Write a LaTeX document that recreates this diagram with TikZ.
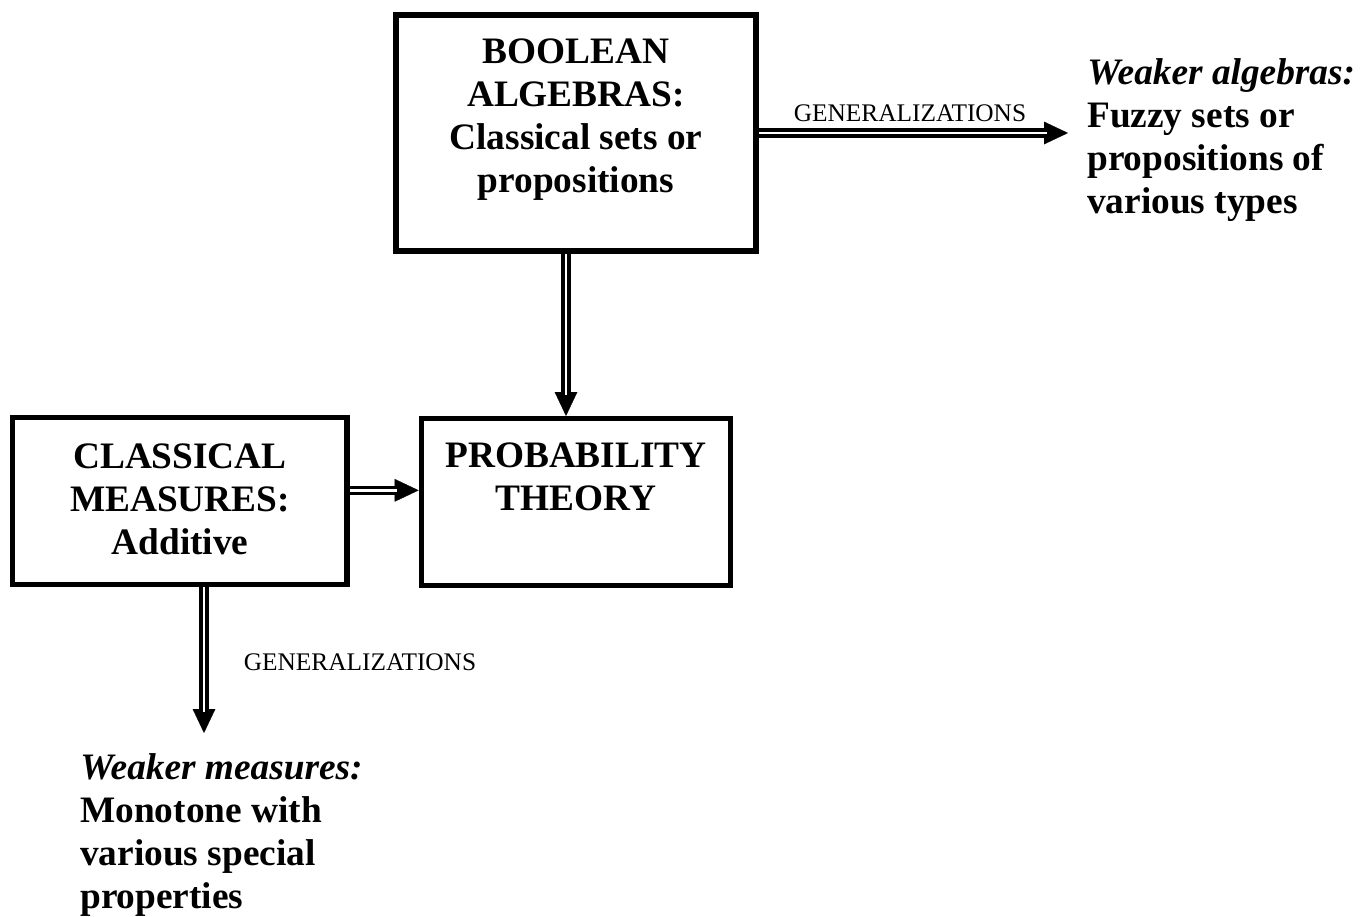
\documentclass[tikz,border=0pt]{standalone}
\usepackage{fontspec}
\setmainfont{Liberation Serif}
\usetikzlibrary{arrows.meta}
\tikzset{
  box/.style={draw=black, line width=4pt, inner sep=0pt},
  boxtext/.style={align=center, font=\fontsize{28}{32.3}\selectfont\bfseries, inner sep=0pt},
  sidetext/.style={align=left, font=\fontsize{28}{32.3}\selectfont\bfseries, inner sep=0pt, anchor=west},
  lbl/.style={font=\fontsize{19}{22}\selectfont, inner sep=0pt},
  tipline/.style={line width=0.2pt, -{Triangle[length=18pt,width=17pt]}},
  shaft/.style={line width=2.5pt, double=white, double distance=2.2pt}
}
\begin{document}
\begin{tikzpicture}[x=0.75pt,y=-0.75pt]
\useasboundingbox (0,0) rectangle (1360,917);
% boxes
\node[box, minimum width=270pt, minimum height=177pt] (bool) at (576,133) {};
\node[box, minimum width=251pt, minimum height=125pt] (class) at (179.5,501) {};
\node[box, minimum width=232pt, minimum height=125pt] (prob) at (576,502) {};
% box texts
\node[boxtext] (boolt) at (576,119.5) {BOOLEAN\\ALGEBRAS:\\Classical sets or\\propositions};
\node[boxtext] (classt) at (180,499) {CLASSICAL\\MEASURES:\\Additive};
\node[boxtext] (probt) at (576,477) {PROBABILITY\\THEORY};
% free ends
\coordinate (genR) at (1068,133);
\coordinate (genD) at (204,733);
\coordinate (boolS) at ([xshift=-7.5pt]bool.south);
\coordinate (probN) at (boolS |- prob.north);
\coordinate (classE) at ([yshift=8pt]class.east);
\coordinate (probW) at (classE -| prob.west);
\coordinate (classS) at (genD |- class.south);
% arrows: tips first, then double shafts
\draw[tipline] (bool.east) -- (genR);
\draw[shaft, shorten >=16pt] (bool.east) -- (genR);
\draw[tipline] (boolS) -- (probN);
\draw[shaft, shorten >=16pt] (boolS) -- (probN);
\draw[tipline] (classE) -- (probW);
\draw[shaft, shorten >=16pt] (classE) -- (probW);
\draw[tipline] (classS) -- (genD);
\draw[shaft, shorten >=16pt] (classS) -- (genD);
% labels
\node[lbl] (g1) at (910,113) {GENERALIZATIONS};
\node[lbl] (g2) at (360,662) {GENERALIZATIONS};
\node[sidetext] (wa) at (1087,140) {{\itshape Weaker algebras:}\\Fuzzy sets or\\propositions of\\various types};
\node[sidetext] (wm) at (80,835) {{\itshape Weaker measures:}\\Monotone with\\various special\\properties};
\end{tikzpicture}
\end{document}
